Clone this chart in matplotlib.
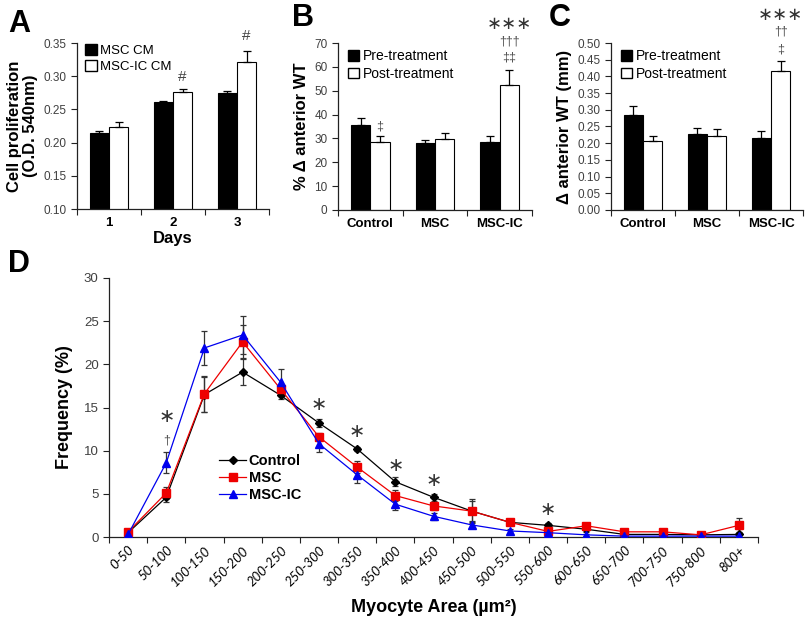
import numpy as np
import matplotlib.pyplot as plt
from matplotlib.patches import Patch
from matplotlib.lines import Line2D

plt.rcParams['font.family'] = ['Liberation Sans', 'DejaVu Sans']

# panel A - cell proliferation
days = ['1', '2', '3']
msc_cm = [0.215, 0.261, 0.275]
msc_cm_err = [0.003, 0.002, 0.002]
msc_ic_cm = [0.224, 0.276, 0.322]
msc_ic_cm_err = [0.007, 0.004, 0.016]

# panels B and C - anterior wall thickness
groups = ['Control', 'MSC', 'MSC-IC']
pct_pre = [35.8, 28.1, 28.4]
pct_pre_err = [2.9, 1.4, 2.6]
pct_post = [28.6, 29.9, 52.5]
pct_post_err = [2.4, 2.4, 6.3]

mm_pre = [0.283, 0.227, 0.216]
mm_pre_err = [0.027, 0.018, 0.020]
mm_post = [0.206, 0.222, 0.415]
mm_post_err = [0.015, 0.021, 0.031]

# panel D - myocyte area distribution
area_bins = ['0-50', '50-100', '100-150', '150-200', '200-250', '250-300',
             '300-350', '350-400', '400-450', '450-500', '500-550', '550-600',
             '600-650', '650-700', '700-750', '750-800', '800+']
control = [0.5, 4.6, 16.5, 19.1, 16.4, 13.2, 10.2, 6.4, 4.6, 3.0, 1.7, 1.35,
           0.9, 0.3, 0.3, 0.25, 0.3]
control_err = [0.2, 0.6, 2.0, 1.5, 0.4, 0.5, 0.2, 0.5, 0.4, 1.2, 0.3, 0.3,
               0.3, 0.2, 0.2, 0.1, 0.6]
msc = [0.6, 5.1, 16.6, 22.6, 17.1, 11.6, 8.1, 4.8, 3.6, 3.0, 1.7, 0.65,
       1.3, 0.6, 0.6, 0.25, 1.35]
msc_err = [0.2, 0.7, 2.1, 1.9, 0.5, 0.4, 0.7, 0.6, 0.5, 1.4, 0.3, 0.2,
           0.3, 0.2, 0.2, 0.1, 0.8]
msc_ic = [0.3, 8.6, 21.9, 23.4, 17.9, 10.8, 7.2, 3.8, 2.4, 1.4, 0.7, 0.5,
          0.25, 0.1, 0.1, 0.1, 0.1]
msc_ic_err = [0.2, 1.2, 2.0, 2.2, 1.6, 0.9, 1.0, 0.7, 0.4, 0.3, 0.2, 0.2,
              0.1, 0.1, 0.1, 0.1, 0.1]
star_bins = [1, 5, 6, 7, 8, 11]
star_y = [13.9, 15.4, 12.2, 8.3, 6.6, 3.2]

GRAY = '#404040'
W = 805
H = 621


def box(left, top, right, bottom):
    return [left / W, 1 - bottom / H, (right - left) / W, (bottom - top) / H]


def style_axes(ax, n):
    for s in ['top', 'right']:
        ax.spines[s].set_visible(False)
    for s in ['left', 'bottom']:
        ax.spines[s].set_color('#222222')
        ax.spines[s].set_linewidth(0.9)
    ax.set_xlim(-0.5, n - 0.5)
    ax.set_xticks(np.arange(n + 1) - 0.5)
    ax.set_xticklabels([])
    ax.tick_params(axis='x', which='major', length=4, direction='out', color='#222222')
    ax.tick_params(axis='y', length=4, direction='out', color='#222222',
                   labelcolor=GRAY, labelsize=8.5)


def bar_pair(ax, a, a_err, b, b_err):
    x = np.arange(len(a))
    ek = dict(elinewidth=0.9, capsize=3, capthick=0.9, ecolor='black')
    ax.bar(x - 0.15, a, 0.3, color='black', edgecolor='black', linewidth=0.8,
           yerr=[np.zeros(len(a)), a_err], error_kw=ek, zorder=2)
    ax.bar(x + 0.15, b, 0.3, color='white', edgecolor='black', linewidth=0.8,
           yerr=[np.zeros(len(b)), b_err], error_kw=ek, zorder=2)


def cat_labels(ax, labels, size=9.5, weight='bold', **kw):
    ax.set_xticks(np.arange(len(labels)), minor=True)
    ax.set_xticklabels(labels, minor=True, fontsize=size, fontweight=weight, **kw)
    ax.tick_params(axis='x', which='minor', length=0, pad=6)


def mark(ax, x, y, s, dy, size=9, color='#555555', font=None):
    ax.annotate(s, (x, y), xytext=(0, dy), textcoords='offset points',
                ha='center', va='center', fontsize=size, color=color,
                annotation_clip=False, family=font)


fig = plt.figure(figsize=(8.05, 6.21), dpi=100)

# A
axA = fig.add_axes(box(77, 43, 269, 209))
bar_pair(axA, msc_cm, msc_cm_err, msc_ic_cm, msc_ic_cm_err)
style_axes(axA, 3)
axA.set_ylim(0.10, 0.35)
axA.set_yticks(np.arange(0.10, 0.351, 0.05))
axA.yaxis.set_major_formatter(plt.FormatStrFormatter('%.2f'))
cat_labels(axA, days, size=9.5)
axA.set_xlabel('Days', fontsize=12, fontweight='bold', labelpad=1)
axA.set_ylabel('Cell proliferation\n(O.D. 540nm)', fontsize=12,
               fontweight='bold', labelpad=4, linespacing=1.05)
hA = [Patch(facecolor='black', edgecolor='black'),
      Patch(facecolor='white', edgecolor='black')]
axA.legend(hA, ['MSC CM', 'MSC-IC CM'], loc='upper left',
           bbox_to_anchor=(0.0, 1.04), frameon=False, fontsize=9.5,
           handlelength=0.9, handleheight=0.9, handletextpad=0.25,
           labelspacing=0.2, borderaxespad=0.2)
mark(axA, 1.15, msc_ic_cm[1] + msc_ic_cm_err[1], '#', 9, size=11, color='#444444')
mark(axA, 2.15, msc_ic_cm[2] + msc_ic_cm_err[2], '#', 11, size=11, color='#444444')

# B
axB = fig.add_axes(box(338, 43, 532, 210))
bar_pair(axB, pct_pre, pct_pre_err, pct_post, pct_post_err)
style_axes(axB, 3)
axB.set_ylim(0, 70)
axB.set_yticks(np.arange(0, 71, 10))
cat_labels(axB, groups)
axB.set_ylabel('% \u0394 anterior WT', fontsize=12, fontweight='bold', labelpad=4)
hB = [Patch(facecolor='black', edgecolor='black'),
      Patch(facecolor='white', edgecolor='black')]
axB.legend(hB, ['Pre-treatment', 'Post-treatment'], loc='upper left',
           bbox_to_anchor=(0.0, 1.02), frameon=False, fontsize=10,
           handlelength=0.8, handleheight=0.8, handletextpad=0.3,
           labelspacing=0.25, borderaxespad=0.3)
mark(axB, 0.15, pct_post[0] + pct_post_err[0], '\u2021', 7)
topB = pct_post[2] + pct_post_err[2]
mark(axB, 2.15, topB, '\u2021\u2021', 9)
mark(axB, 2.15, topB, '\u2020\u2020\u2020', 20)
mark(axB, 2.15, topB, '\u2217\u2217\u2217', 33, size=13, color='#333333',
     font='DejaVu Sans')

# C
axC = fig.add_axes(box(611, 43, 803, 210))
bar_pair(axC, mm_pre, mm_pre_err, mm_post, mm_post_err)
style_axes(axC, 3)
axC.set_ylim(0, 0.5)
axC.set_yticks(np.arange(0, 0.501, 0.05))
axC.yaxis.set_major_formatter(plt.FormatStrFormatter('%.2f'))
cat_labels(axC, groups)
axC.set_ylabel('\u0394 anterior WT (mm)', fontsize=12, fontweight='bold', labelpad=4)
axC.legend(hB, ['Pre-treatment', 'Post-treatment'], loc='upper left',
           bbox_to_anchor=(0.0, 1.02), frameon=False, fontsize=10,
           handlelength=0.8, handleheight=0.8, handletextpad=0.3,
           labelspacing=0.25, borderaxespad=0.3)
topC = mm_post[2] + mm_post_err[2]
mark(axC, 2.15, topC, '\u2021', 8)
mark(axC, 2.15, topC, '\u2020\u2020', 21)
mark(axC, 2.15, topC, '\u2217\u2217\u2217', 33, size=13, color='#333333',
     font='DejaVu Sans')

# D
axD = fig.add_axes(box(109, 278, 758, 537))
x = np.arange(len(area_bins))
series = [(control, control_err, 'black', 'D', 4, 'Control'),
          (msc, msc_err, '#ee0000', 's', 5.5, 'MSC'),
          (msc_ic, msc_ic_err, '#0000ee', '^', 5.5, 'MSC-IC')]
handles = []
for vals, err, col, mk, ms, lab in series:
    axD.errorbar(x, vals, yerr=err, fmt='none', ecolor='#333333',
                 elinewidth=0.9, capsize=2.5, capthick=0.9, zorder=2)
    axD.plot(x, vals, color=col, lw=0.9, marker=mk, ms=ms, zorder=3)
    handles.append(Line2D([], [], color=col, lw=0.9, marker=mk, ms=ms))
style_axes(axD, len(area_bins))
axD.tick_params(axis='y', labelsize=9.5)
axD.set_ylim(0, 30)
axD.set_yticks(np.arange(0, 31, 5))
cat_labels(axD, area_bins, size=9.5, weight='normal', rotation=45, ha='right',
           rotation_mode='anchor', style='italic', family='Lato')
axD.tick_params(axis='x', which='minor', pad=5)
axD.set_ylabel('Frequency (%)', fontsize=13, fontweight='bold', labelpad=8)
axD.set_xlabel('Myocyte Area (\u00b5m\u00b2)', fontsize=13, fontweight='bold',
               labelpad=8)
axD.legend(handles, ['Control', 'MSC', 'MSC-IC'], loc='upper left',
           bbox_to_anchor=(0.15, 0.37), frameon=False,
           prop=dict(size=10.5, weight='bold'), handlelength=1.8,
           handletextpad=0.2, labelspacing=0.2)
for b, sy in zip(star_bins, star_y):
    axD.text(b, sy, '\u2217', ha='center', va='center', fontsize=14,
             color='#333333', family='DejaVu Sans')
axD.text(1, 11.2, '\u2020', ha='center', va='center', fontsize=9, color='#555555')

for lab, px, py in [('A', 8, 32), ('B', 292, 26), ('C', 549, 26), ('D', 8, 272)]:
    fig.text(px / W, 1 - py / H, lab, fontsize=22, fontweight='bold')

fig.savefig('out.png', dpi=100)
